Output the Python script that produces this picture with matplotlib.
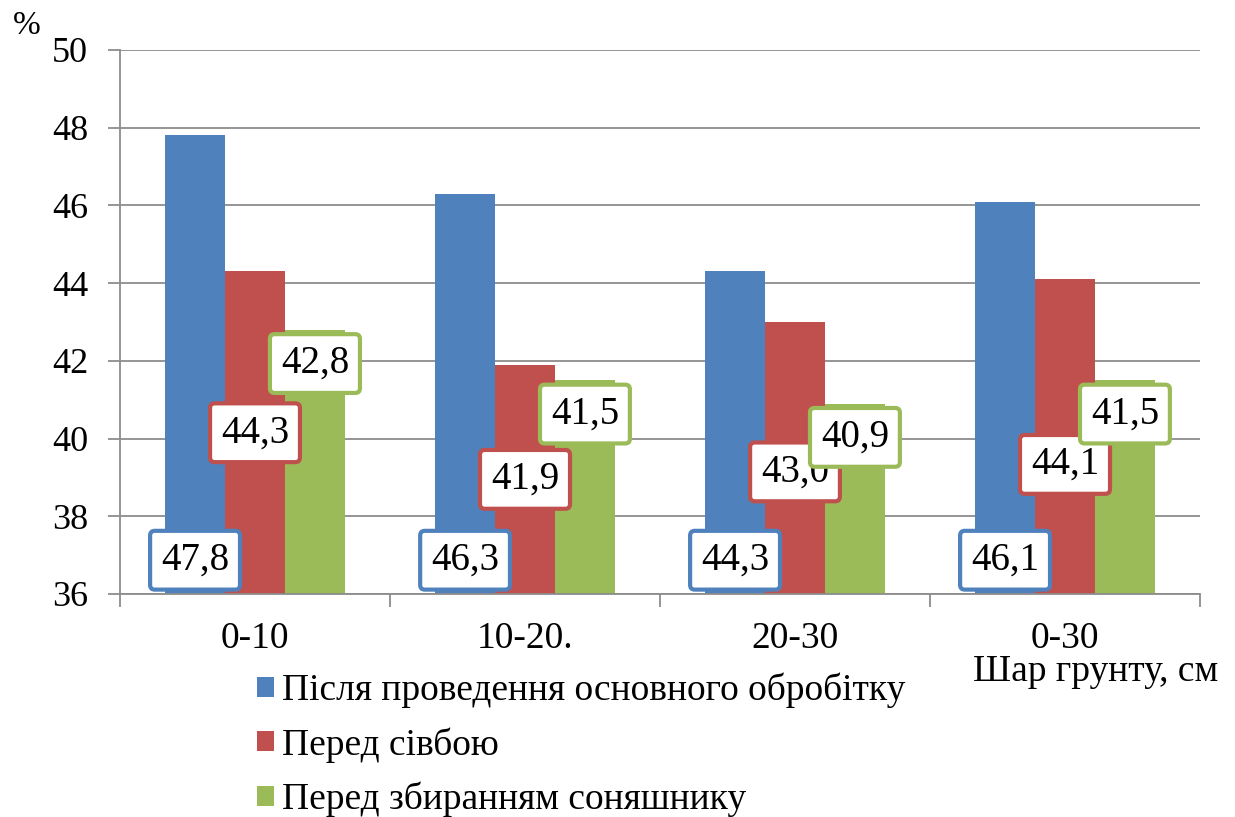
import numpy as np
import matplotlib.pyplot as plt

plt.rcParams['font.family'] = ['Liberation Serif', 'DejaVu Serif']

# шари ґрунту та вологість по строках визначення
sloi = ['0-10', '10-20.', '20-30', '0-30']
seria = ['Після проведення основного обробітку', 'Перед сівбою', 'Перед збиранням соняшнику']
pislya = [47.8, 46.3, 44.3, 46.1]
pered_sivboyu = [44.3, 41.9, 43.0, 44.1]
pered_zbyr = [42.8, 41.5, 40.9, 41.5]
kolory = ['#4F81BD', '#C0504D', '#9BBB59']
# зсув підписів "перед сівбою", щоб не налазили на сусідні
zsuv_sivba = [0, 0, -10, -20]

fig = plt.figure(figsize=(12.35, 8.17), dpi=100)
ax = fig.add_axes([120/1235, 1-594/817, 1080/1235, 544/817])

x = np.arange(len(sloi))
w = 0.222
dani = [pislya, pered_sivboyu, pered_zbyr]

for k, (vals, c) in enumerate(zip(dani, kolory)):
    pos = x + (k-1)*w
    ax.bar(pos, np.array(vals) - 36, bottom=36, width=w, color=c, label=seria[k], zorder=2)
    for i, (xi, v) in enumerate(zip(pos, vals)):
        txt = ('%.1f' % v).replace('.', ',')
        box = dict(boxstyle='round,pad=0.28,rounding_size=0.12', fc='white', ec=c, lw=3)
        if k == 0:   # біля основи
            ax.annotate(txt, (xi, 36), xytext=(0, 11), textcoords='offset points',
                        ha='center', va='bottom', fontsize=28, bbox=box, zorder=4)
        elif k == 1:  # по центру
            ax.annotate(txt, (xi, (36+v)/2), xytext=(0, zsuv_sivba[i]), textcoords='offset points',
                        ha='center', va='center', fontsize=28, bbox=box, zorder=4)
        else:        # біля верху
            ax.annotate(txt, (xi, v), xytext=(0, -11), textcoords='offset points',
                        ha='center', va='top', fontsize=28, bbox=box, zorder=5)

ax.set_xlim(-0.5, 3.5)
ax.set_ylim(36, 50)
ax.set_yticks(np.arange(36, 51, 2))
ax.yaxis.grid(True, color='#8c8c8c', lw=1.3, zorder=0)
ax.set_axisbelow(True)
ax.set_xticks(x)
ax.set_xticklabels(sloi)
ax.set_xticks(np.arange(-0.5, 4, 1), minor=True)
ax.tick_params(axis='x', which='major', length=0, pad=20, labelsize=27)
ax.tick_params(axis='x', which='minor', length=9, color='#8c8c8c', width=1.3)
ax.tick_params(axis='y', length=9, color='#8c8c8c', width=1.3, pad=14, labelsize=26)
for s in ['top', 'right']:
    ax.spines[s].set_visible(False)
for s in ['left', 'bottom']:
    ax.spines[s].set_color('#8c8c8c')
    ax.spines[s].set_linewidth(1.3)

fig.text(27/1235, 1-26/817, '%', fontsize=24, ha='center', va='center')
fig.text(1218/1235, 1-672/817, 'Шар грунту, см', fontsize=27, ha='right', va='center')

fig.legend(loc='upper left', bbox_to_anchor=(257/1235, 1-673/817), frameon=False,
           fontsize=27, handlelength=0.45, handleheight=0.45, handletextpad=0.22,
           labelspacing=0.5, borderaxespad=0, borderpad=0)

fig.savefig('out.png', dpi=100)
